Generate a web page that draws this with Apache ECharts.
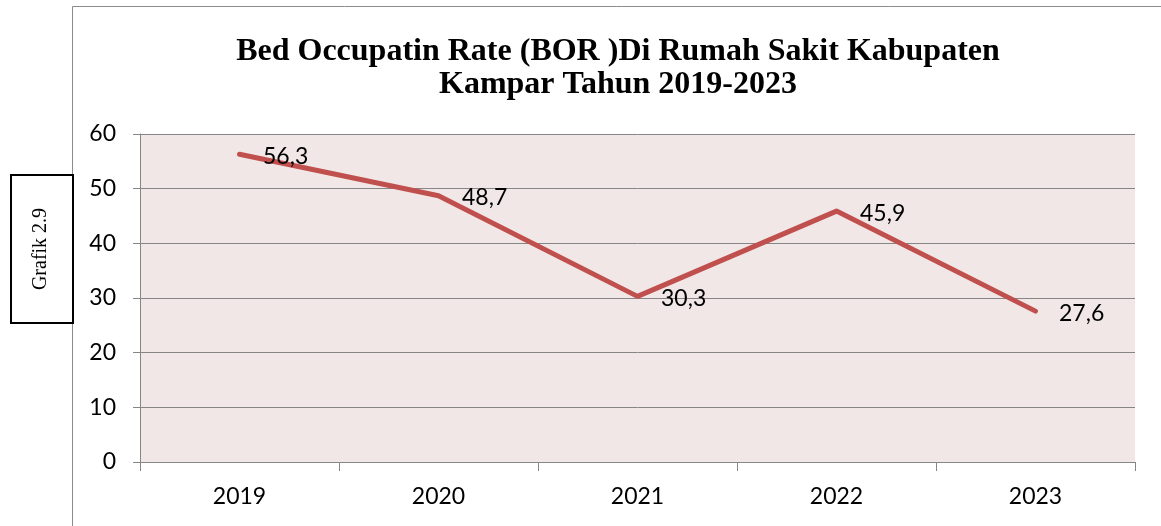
<!DOCTYPE html>
<html>
<head>
<meta charset="utf-8">
<script src="https://cdn.jsdelivr.net/npm/echarts@6/dist/echarts.min.js"></script>
<style>
html,body{margin:0;padding:0;background:#fff;}
#c{width:1161px;height:526px;}
</style>
</head>
<body>
<div id="c"></div>
<script>
const categories = ['2019', '2020', '2021', '2022', '2023'];
const borValues = [56.3, 48.7, 30.3, 45.9, 27.6];
const yTicks = { min: 0, max: 60, interval: 10 };
const titleText = 'Bed Occupatin Rate (BOR )Di Rumah Sakit Kabupaten\nKampar Tahun 2019-2023';
const sideLabel = 'Grafik 2.9';

const chart = echarts.init(document.getElementById('c'), null, { renderer: 'canvas' });
const labelFont = 'Lato, "Open Sans", "Noto Sans", sans-serif';
chart.setOption({
  animation: false,
  backgroundColor: '#ffffff',
  title: {
    text: titleText,
    left: 613,
    top: 30,
    textAlign: 'center',
    textStyle: {
      fontFamily: '"Liberation Serif", "Times New Roman", serif',
      fontWeight: 'bold',
      fontSize: 32,
      lineHeight: 33,
      color: '#000'
    }
  },
  grid: {
    left: 140,
    right: 1161 - 1135,
    top: 134,
    bottom: 526 - 462,
    show: true,
    backgroundColor: '#F2E7E7',
    borderWidth: 0
  },
  graphic: [
    { type: 'line', shape: { x1: 72.5, y1: 6.5, x2: 72.5, y2: 526 }, style: { stroke: '#8c8c8c', lineWidth: 1 }, z: 0 },
    { type: 'line', shape: { x1: 72.5, y1: 6.5, x2: 1161, y2: 6.5 }, style: { stroke: '#8c8c8c', lineWidth: 1 }, z: 0 },
    { type: 'rect', shape: { x: 11, y: 175, width: 62, height: 148 }, style: { fill: '#fff', stroke: '#000', lineWidth: 2 }, z: 10 },
    {
      type: 'text', x: 41, y: 249, rotation: Math.PI / 2, z: 11,
      style: { text: sideLabel, fontFamily: '"Liberation Serif", "Times New Roman", serif', fontSize: 20, fill: '#000', align: 'center', verticalAlign: 'middle' }
    }
  ],
  xAxis: {
    type: 'category',
    data: categories,
    boundaryGap: true,
    axisLine: { show: true, lineStyle: { color: '#868686', width: 1 } },
    axisTick: { show: true, length: 9, lineStyle: { color: '#868686' } },
    axisLabel: { fontSize: 23, color: '#000', margin: 23, fontFamily: labelFont },
    splitLine: { show: false }
  },
  yAxis: {
    type: 'value',
    min: yTicks.min,
    max: yTicks.max,
    interval: yTicks.interval,
    axisLine: { show: true, lineStyle: { color: '#868686', width: 1 } },
    axisTick: { show: true, length: 7, lineStyle: { color: '#868686' } },
    axisLabel: { fontSize: 23, color: '#000', margin: 24, fontFamily: labelFont },
    splitLine: { show: true, lineStyle: { color: '#868686', width: 1 } }
  },
  series: [{
    type: 'line',
    data: borValues,
    symbol: 'circle',
    symbolSize: 1,
    showSymbol: true,
    lineStyle: { color: '#C0504D', width: 5, cap: 'round', join: 'round' },
    itemStyle: { color: 'rgba(0,0,0,0)', borderWidth: 0 },
    label: {
      show: true,
      position: 'right',
      distance: 23,
      offset: [0, 2],
      fontSize: 23,
      color: '#000',
      fontFamily: labelFont,
      formatter: p => String(p.value).replace('.', ',')
    },
    z: 3
  }]
});
</script>
</body>
</html>
